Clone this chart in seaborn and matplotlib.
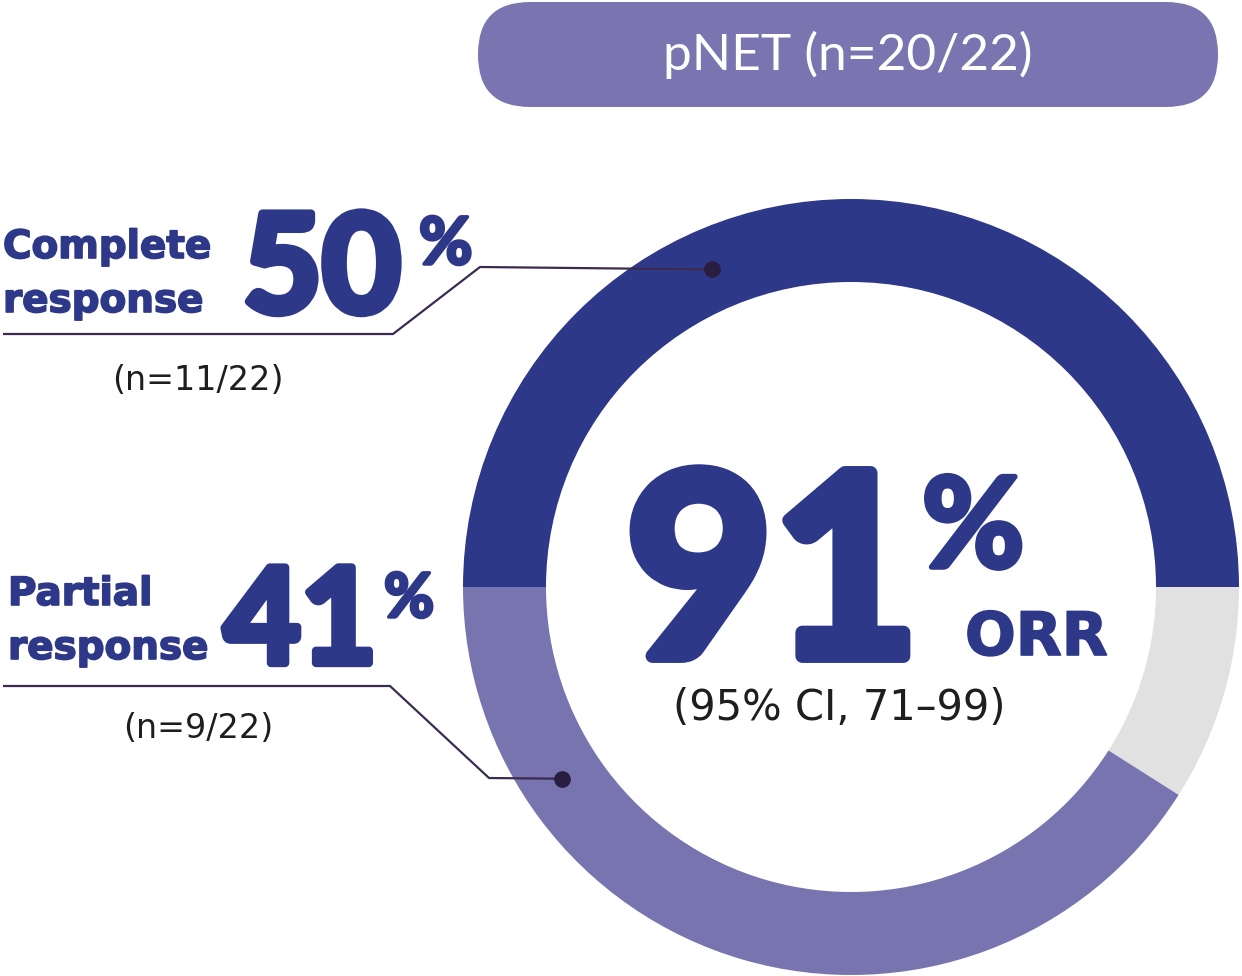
import numpy as np
import matplotlib
matplotlib.use("Agg")
import matplotlib.pyplot as plt
import matplotlib.patheffects as pe
from matplotlib.patches import FancyBboxPatch
import seaborn as sns

# picture size in pixels (axes use pixel units, y measured from the top)
W, H = 1242, 976

# --- data ---
segments = ["Complete response", "No response", "Partial response"]
shares = [50, 9, 41]
counts = ["(n=11/22)", "", "(n=9/22)"]
header = "pNET (n=20/22)"
orr_value = 91
orr_ci = "(95% CI, 71\u201399)"

# --- style ---
dark = "#2E3889"
purple = "#7774AF"
grey = "#E0E1E0"
pill = "#7A75B0"
line_col = "#3B2B4E"
ink = "#1E1E1E"
seg_colors = [dark, grey, purple]

sns.set_theme(style="white")
plt.rcParams["font.family"] = ["Lato", "DejaVu Sans"]


def Y(y):
    # convert a top-down pixel row to the axes' bottom-up coordinate
    return H - y


def heavy(w):
    return [pe.withStroke(linewidth=w, foreground=dark)]


fig = plt.figure(figsize=(W / 100, H / 100), dpi=100)
ax = fig.add_axes([0, 0, 1, 1])

cx, cy = 851, 587
r_out, ring = 388, 83

ax.pie(shares, colors=seg_colors, startangle=180, counterclock=False,
       radius=r_out, center=(cx, Y(cy)),
       wedgeprops=dict(width=ring, linewidth=0))

ax.set_xlim(0, W)
ax.set_ylim(0, H)
ax.set_aspect("equal")
ax.axis("off")

# header pill
ax.add_patch(FancyBboxPatch((478, Y(107)), 740, 105,
                            boxstyle="round,pad=0,rounding_size=52",
                            fc=pill, ec="none"))
ax.text(848, Y(70), header, color="white", fontsize=37, fontweight="normal",
        ha="center", va="baseline")

# leader lines with dots on the ring
r_mid = r_out - ring / 2
for ang, pts in [(113.6, [(3, 334), (393, 334), (480, 267)]),
                 (213.6, [(3, 686), (390, 686), (489, 778)])]:
    dx = cx + r_mid * np.cos(np.radians(ang))
    dy = cy - r_mid * np.sin(np.radians(ang))
    xs = [p[0] for p in pts] + [dx]
    ys = [Y(p[1]) for p in pts] + [Y(dy)]
    ax.plot(xs, ys, color=line_col, lw=1.6, solid_capstyle="butt")
    ax.plot(dx, Y(dy), "o", color="#2A1D42", ms=11)

word = dict(color=dark, fontweight="bold", family="DejaVu Sans",
            ha="left", va="baseline", path_effects=heavy(1.2))
num = dict(color=dark, fontweight="bold", family="Lato",
           ha="left", va="baseline")
thin = dict(color=ink, fontweight="normal", family="DejaVu Sans",
            ha="center", va="baseline")

# complete response
ax.text(3, Y(258), segments[0].split()[0], fontsize=28, **word)
ax.text(3, Y(312), segments[0].split()[1], fontsize=28, **word)
ax.text(243, Y(312), f"{shares[0]}", fontsize=98, path_effects=heavy(6), **num)
ax.text(419, Y(264), "%", fontsize=47, path_effects=heavy(2.5), **num)
ax.text(198, Y(390), counts[0], fontsize=24, **thin)

# partial response
ax.text(224, Y(663), f"{shares[2]}", fontsize=95, path_effects=heavy(6), **num)
ax.text(8, Y(605), segments[2].split()[0], fontsize=28, **word)
ax.text(8, Y(659), segments[2].split()[1], fontsize=28, **word)
ax.text(384, Y(617), "%", fontsize=44, path_effects=heavy(2.5), **num)
ax.text(198, Y(738), counts[2], fontsize=24, **thin)

# centre
ax.text(626, Y(656), f"{orr_value}", fontsize=182, path_effects=heavy(10), **num)
ax.text(922, Y(567), "%", fontsize=90, path_effects=heavy(4), **num)
ax.text(965, Y(655), "ORR", fontsize=43, **word)
ax.text(839, Y(720), orr_ci, fontsize=30, **thin)

fig.savefig("out.png", dpi=100, facecolor="white")
